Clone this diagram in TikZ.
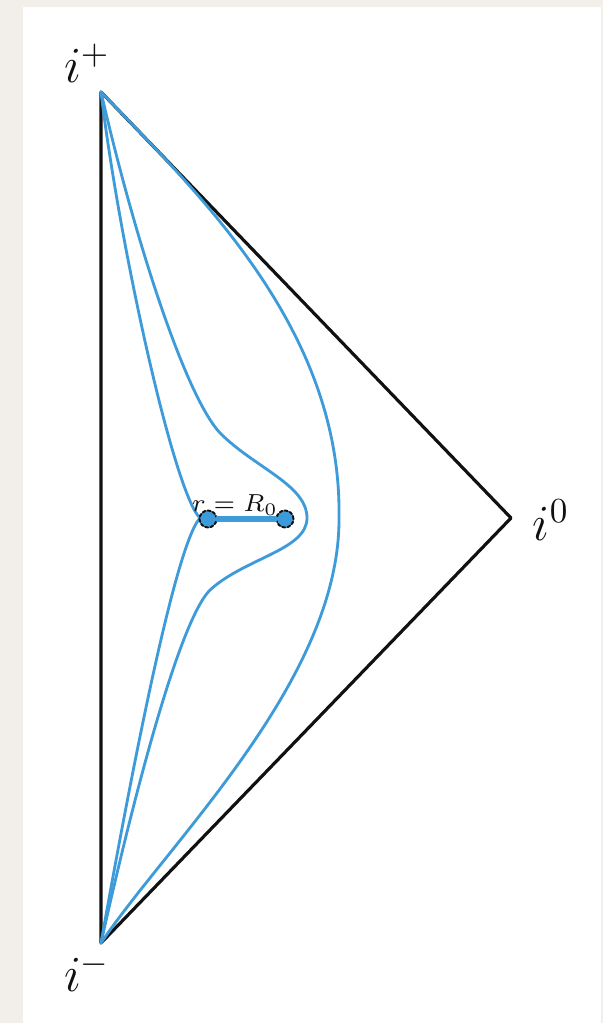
\documentclass[tikz,border=0pt]{standalone}
\usepackage{amsmath,amssymb}
\usepackage{xcolor}
\usepackage{tikz}
\usetikzlibrary{positioning}
\definecolor{pdBlue}{HTML}{3C9BD8}
\definecolor{pdInk}{HTML}{111111}
\definecolor{pdPaper}{HTML}{F2EFEA}
\tikzset{
  pd diagram/.style={line cap=round, line join=round},
  pd boundary/.style={draw=pdInk, line width=0.9pt},
  pd worldline/.style={draw=pdBlue, line width=0.8pt},
  pd shell/.style={draw=pdBlue, line width=1.5pt},
  pd dot/.style={circle, fill=pdBlue, draw=pdInk, dash pattern=on 0.9pt off 0.6pt,
    line width=0.55pt, minimum size=1.7mm, inner sep=0pt},
  pd label/.style={font=\Large, text=pdInk, inner sep=0pt},
  pd small/.style={font=\scriptsize, text=pdInk, inner sep=0pt}
}
\begin{document}
\begin{tikzpicture}[pd diagram]
\useasboundingbox (0,0) rectangle (6.03,-10.23);
\fill[pdPaper] (0,0) rectangle (6.03,-10.23);
\fill[white] (0.23,-0.07) rectangle (6.01,-10.23);
% corners of the diagram
\coordinate (ip) at (1.01,-0.92);
\coordinate (im) at (1.01,-9.43);
\coordinate (i0) at (5.11,-5.18);
\coordinate (cusp) at (2.00,-5.18);
\coordinate (otip) at (3.39,-5.18);
\coordinate (mtip) at (3.07,-5.18);
\node[pd label] (lip) at (0.87,-0.63) {$i^{+}$};
\node[pd label] (li0) at (5.51,-5.20) {$i^{0}$};
\node[pd label] (lim) at (0.87,-9.72) {$i^{-}$};
% boundary
\draw[pd boundary] (ip) -- (im) -- (i0) -- cycle;
% outer worldline
\draw[pd worldline] (ip) .. controls (2.0,-1.95) and (3.42,-3.3) .. (otip)
  .. controls (3.40,-6.8) and (1.68,-8.43) .. (im);
% middle worldline
\draw[pd worldline] (ip) .. controls (1.35,-2.4) and (1.85,-3.95) .. (2.20,-4.33)
  .. controls (2.55,-4.68) and (3.07,-4.85) .. (mtip)
  .. controls (3.07,-5.50) and (2.45,-5.58) .. (2.10,-5.90)
  .. controls (1.80,-6.2) and (1.35,-7.9) .. (im);
% inner worldline, with a kink at the shell
\draw[pd worldline] (ip) .. controls (1.2,-2.5) and (1.75,-4.95) .. (cusp)
  .. controls (1.75,-5.45) and (1.3,-7.8) .. (im);
% the shell
\node[pd dot] (r1) at (2.08,-5.19) {};
\node[pd dot] (r2) at (2.85,-5.19) {};
\draw[pd shell] (r1) -- (r2);
\node[pd small] (lr) at (2.35,-5.05) {$r = R_0$};
\end{tikzpicture}
\end{document}
